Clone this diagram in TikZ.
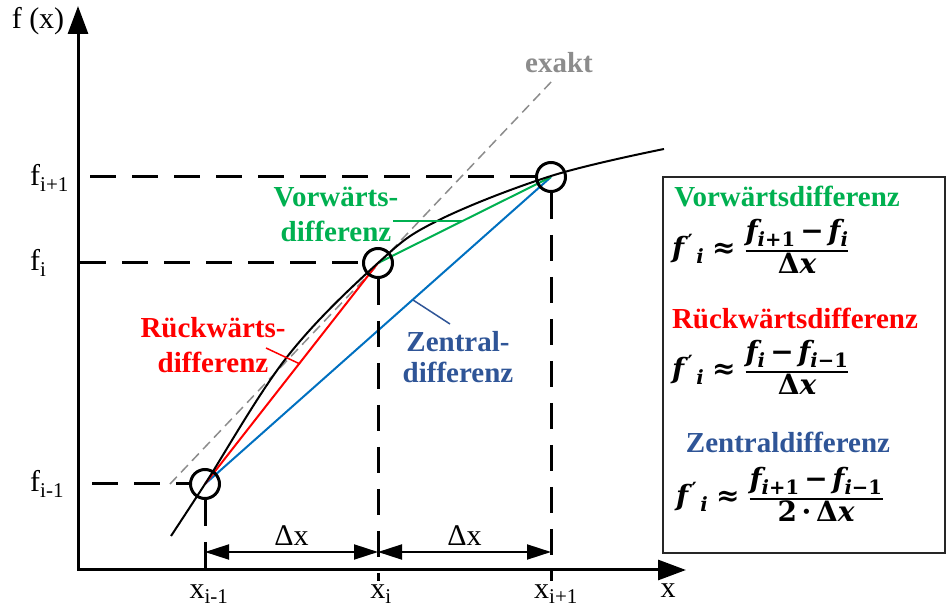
\documentclass[tikz,border=0pt]{standalone}
\usepackage{fontspec}
\setmainfont{Liberation Serif}
\newfontfamily\fmla{DejaVu Serif}
\usetikzlibrary{arrows.meta}
\definecolor{cgreen}{HTML}{00B050}
\definecolor{cred}{HTML}{FF0000}
\definecolor{cblue}{HTML}{0070C0}
\definecolor{cdblue}{HTML}{2F5597}
\definecolor{cgray}{HTML}{8C8C8C}
\newcommand\bfi[1]{{\bfseries\itshape #1}}
\newcommand\lhsF{\bfi{f}\textsuperscript{\,′}\textsubscript{\,\bfi{i}}\;≈\hspace{10pt}}
\newcommand\myfrac[2]{{\setlength\arrayrulewidth{2.6pt}\renewcommand\arraystretch{0.95}\begin{tabular}{@{}c@{}}#1\\\hline #2\end{tabular}}}
\begin{document}
\begin{tikzpicture}[x=1pt,y=-1pt,
  lab/.style={font=\fontsize{30}{34}\selectfont, inner sep=0pt},
  blab/.style={font=\fontsize{29}{35}\selectfont\bfseries, inner sep=0pt, align=center},
  dashline/.style={line width=3pt, dash pattern=on 26pt off 16pt},
  pt/.style={circle, draw, line width=3pt, minimum size=29pt, inner sep=0pt},
  axisline/.style={line width=3pt, {Triangle[length=28pt,width=20pt]}-{Triangle[length=28pt,width=20pt]}},
  dimarrow/.style={line width=2pt, {Triangle[length=24pt,width=15pt]}-{Triangle[length=24pt,width=15pt]}},
  fml/.style={font=\fmla\fontsize{28}{32}\selectfont\bfseries, inner sep=0pt, anchor=west},
  hdr/.style={font=\fontsize{29}{34}\selectfont\bfseries, inner sep=0pt}]
\useasboundingbox (0,0) rectangle (946,609);
% axes
\coordinate (o) at (78,570);
\coordinate (ytip) at (78,6);
\coordinate (xtip) at (686,570);
\draw[axisline] (ytip) -- (o) -- (xtip);
\node[lab] (fx) at (38,21) {f (x)};
\node[lab] (xl) at (668,591) {x};
% points
\coordinate (c0) at (205,484);
\coordinate (c1) at (378,263);
\coordinate (c2) at (551,177);
% exakt line
\coordinate (ex0) at (170,484);
\coordinate (ex1) at (553,80);
\draw[cgray, line width=1.5pt, dash pattern=on 10pt off 6pt] (ex0) -- (ex1);
\node[font=\fontsize{29}{34}\selectfont\bfseries, text=cgray, inner sep=0pt] (exakt) at (559,63) {exakt};
% secant lines
\draw[cblue, line width=2pt] (c0) -- (c2);
\draw[cred, line width=2pt] (c0) -- (c1);
\draw[cgreen, line width=2pt] (c1) -- (c2);
% curve
\draw[line width=2pt] plot[smooth, tension=0.6] coordinates {(171,536) (205,484) (287,357) (378,263) (437,221) (551,176) (664,149)};
% circles
\node[pt] (p0) at (c0) {};
\node[pt] (p1) at (c1) {};
\node[pt] (p2) at (c2) {};
% horizontal dashed
\coordinate (h2) at (90,177);
\coordinate (h1) at (80,263);
\coordinate (h0) at (92,484);
\draw[dashline] (h2) -- (p2.west);
\draw[dashline] (h1) -- (p1.west);
\draw[dashline] (h0) -- (p0.west);
% vertical dashed
\coordinate (v0) at (205,581);
\coordinate (v1) at (378,581);
\coordinate (v2) at (551,581);
\draw[dashline] (p0.south) -- (v0);
\draw[dashline] (p1.south) -- (v1);
\draw[dashline] (p2.south) -- (v2);
% f labels
\node[lab, anchor=west] (f2) at (30,178) {f\textsubscript{i+1}};
\node[lab, anchor=west] (f1) at (30,263) {f\textsubscript{i}};
\node[lab, anchor=west] (f0) at (30,484) {f\textsubscript{i-1}};
% x labels
\node[lab] (x0) at (209,594) {x\textsubscript{i-1}};
\node[lab] (x1) at (381,594) {x\textsubscript{i}};
\node[lab] (x2) at (556,594) {x\textsubscript{i+1}};
% dimension arrows
\coordinate (d0) at (205,552);
\coordinate (d1) at (378,552);
\coordinate (d2) at (551,552);
\draw[dimarrow] (d0) -- (d1) node[lab, midway, above=5pt] (dx1) {Δx};
\draw[dimarrow] (d1) -- (d2) node[lab, midway, above=5pt] (dx2) {Δx};
% labels with leaders
\node[blab, text=cgreen] (lv) at (336,214) {Vorwärts-\\differenz};
\node[blab, text=cred] (lr) at (213,345) {Rückwärts-\\differenz};
\node[blab, text=cdblue, font=\fontsize{29}{31}\selectfont\bfseries] (lz) at (458,357) {Zentral-\\differenz};
\coordinate (gl0) at (393,221); \coordinate (gl1) at (463,221);
\draw[cgreen, line width=1.5pt] (gl0) -- (gl1);
\coordinate (rl0) at (266,348); \coordinate (rl1) at (300,364);
\draw[cred, line width=1.5pt] (rl0) -- (rl1);
\coordinate (bl0) at (413,300); \coordinate (bl1) at (450,324);
\draw[cdblue, line width=1.5pt] (bl0) -- (bl1);
% box
\coordinate (b0) at (663,177);
\coordinate (b1) at (945,553);
\draw[line width=2pt, black!85] (b0) rectangle (b1);
\node[hdr, text=cgreen] (hv) at (787,197) {Vorwärtsdifferenz};
\node[fml] (fv) at (672,251) {\lhsF\myfrac{\bfi{f}\textsubscript{\bfi{i}+1}\,−\,\bfi{f}\textsubscript{\bfi{i}}}{Δ\bfi{x}}};
\node[hdr, text=cred] (hr) at (795,318) {Rückwärtsdifferenz};
\node[fml] (fr) at (672,372) {\lhsF\myfrac{\bfi{f}\textsubscript{\bfi{i}}\,−\,\bfi{f}\textsubscript{\bfi{i}−1}}{Δ\bfi{x}}};
\node[hdr, text=cdblue] (hz) at (788,442) {Zentraldifferenz};
\node[fml] (fz) at (676,499) {\lhsF\myfrac{\bfi{f}\textsubscript{\bfi{i}+1}\,−\,\bfi{f}\textsubscript{\bfi{i}−1}}{2\,·\,Δ\bfi{x}}};
\end{tikzpicture}
\end{document}
